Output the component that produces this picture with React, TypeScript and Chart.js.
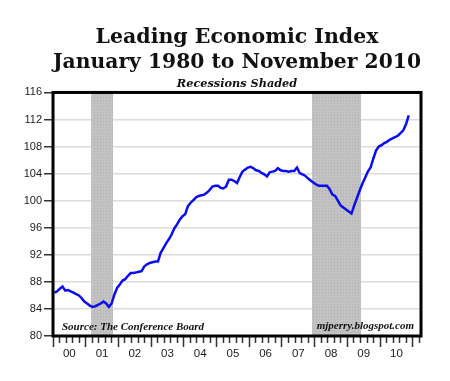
import React, { useEffect, useRef } from 'react';
import { Chart, registerables } from 'chart.js';

Chart.register(...registerables);

const titleLines = ['Leading Economic Index', 'January 1980 to November 2010'];
const subtitleText = 'Recessions Shaded';
const sourceText = 'Source: The Conference Board';
const creditText = 'mjperry.blogspot.com';

const yearLabels = ['00', '01', '02', '03', '04', '05', '06', '07', '08', '09', '10'];

// Monthly LEI values, Jan 2000 .. Nov 2010 (index = months since Jan 2000)
const lei2000 = [86.4, 86.6, 87.0, 87.3, 86.7, 86.8, 86.6, 86.4, 86.2, 86.0, 85.6, 85.1];
const lei2001 = [84.8, 84.5, 84.3, 84.4, 84.6, 84.8, 85.1, 84.8, 84.3, 84.8, 86.1, 87.1];
const lei2002 = [87.6, 88.2, 88.4, 88.9, 89.3, 89.3, 89.4, 89.5, 89.6, 90.3, 90.6, 90.8];
const lei2003 = [90.9, 91.0, 91.0, 92.3, 93.0, 93.7, 94.3, 95.0, 95.9, 96.5, 97.2, 97.7];
const lei2004 = [98.0, 99.2, 99.7, 100.1, 100.5, 100.7, 100.8, 100.9, 101.2, 101.6, 102.1, 102.2];
const lei2005 = [102.2, 101.9, 101.8, 102.1, 103.1, 103.1, 102.9, 102.6, 103.5, 104.3, 104.6, 104.9];
const lei2006 = [105.0, 104.8, 104.5, 104.4, 104.1, 103.9, 103.6, 104.2, 104.3, 104.4, 104.8, 104.5];
const lei2007 = [104.4, 104.4, 104.3, 104.4, 104.4, 104.9, 104.1, 103.9, 103.7, 103.3, 103.0, 102.7];
const lei2008 = [102.4, 102.2, 102.2, 102.2, 102.2, 101.7, 100.9, 100.7, 100.0, 99.3, 99.0, 98.7];
const lei2009 = [98.4, 98.1, 99.3, 100.4, 101.5, 102.5, 103.4, 104.3, 104.9, 106.2, 107.4, 108.0];
const lei2010 = [108.2, 108.5, 108.7, 109.0, 109.2, 109.4, 109.6, 110.0, 110.4, 111.3, 112.6];

const leiValues = [
  ...lei2000, ...lei2001, ...lei2002, ...lei2003, ...lei2004, ...lei2005,
  ...lei2006, ...lei2007, ...lei2008, ...lei2009, ...lei2010,
];

// Recessions (month index since Jan 2000): Mar 2001 - Nov 2001, Dec 2007 - Jun 2009
const recessionStart = [14, 95];
const recessionEnd = [22, 113];

const yMin = 80;
const yMax = 116;
const yStep = 4;

const xMin = -0.5;
const xMax = 134.5;

type TickItem = { value: number; kind: 'major' | 'minor' | 'label'; yearIdx?: number };

function buildXTicks(): TickItem[] {
  const list: TickItem[] = [];
  for (let k = 0; k <= 56; k++) {
    const v = xMin + 2.4 * k;
    if (v > xMax + 0.01) break;
    list.push({ value: v, kind: k % 5 === 0 ? 'major' : 'minor' });
  }
  yearLabels.forEach((_, i) => {
    list.push({ value: i * 12 + 5.5, kind: 'label', yearIdx: i });
  });
  list.sort((a, b) => a.value - b.value);
  return list;
}

export default function App() {
  const canvasRef = useRef<HTMLCanvasElement | null>(null);

  useEffect(() => {
    const canvas = canvasRef.current;
    if (!canvas) return;

    const pc = document.createElement('canvas');
    pc.width = 3;
    pc.height = 3;
    const pctx = pc.getContext('2d')!;
    pctx.fillStyle = '#c2c2c2';
    pctx.fillRect(0, 0, 3, 3);
    pctx.fillStyle = '#b0b0b0';
    pctx.fillRect(1, 1, 1, 1);

    const shadePlugin = {
      id: 'recessionShade',
      beforeDatasetsDraw(chart: any) {
        const { ctx, chartArea, scales } = chart;
        const pattern = ctx.createPattern(pc, 'repeat');
        ctx.save();
        ctx.fillStyle = pattern || '#c2c2c2';
        recessionStart.forEach((s, i) => {
          const x1 = scales.x.getPixelForValue(s - 0.5);
          const x2 = scales.x.getPixelForValue(recessionEnd[i] - 0.5);
          ctx.fillRect(x1, chartArea.top, x2 - x1, chartArea.bottom - chartArea.top);
        });
        ctx.restore();
      },
      afterDatasetsDraw(chart: any) {
        const { ctx, chartArea } = chart;
        ctx.save();
        ctx.fillStyle = '#111';
        ctx.font = 'italic bold 11px "Liberation Serif"';
        ctx.textBaseline = 'middle';
        ctx.textAlign = 'left';
        ctx.fillText(sourceText, chartArea.left + 9, chartArea.bottom - 9);
        ctx.textAlign = 'right';
        ctx.fillText(creditText, chartArea.right - 7, chartArea.bottom - 10);
        ctx.strokeStyle = '#000';
        ctx.lineWidth = 3;
        ctx.strokeRect(chartArea.left, chartArea.top, chartArea.right - chartArea.left, chartArea.bottom - chartArea.top);
        ctx.restore();
      },
    };

    const xTicks = buildXTicks();

    const chart = new Chart(canvas, {
      type: 'line',
      data: {
        datasets: [
          {
            label: 'Leading Economic Index',
            data: leiValues.map((v, i) => ({ x: i, y: v })),
            borderColor: '#0c0cf0',
            borderWidth: 2.5,
            pointRadius: 0,
            tension: 0,
            fill: false,
          },
        ],
      },
      options: {
        responsive: false,
        animation: false,
        devicePixelRatio: 1,
        layout: { padding: { left: 0, right: 29, top: 0, bottom: 21 } },
        plugins: {
          legend: { display: false },
          tooltip: { enabled: false },
          title: {
            display: true,
            fullSize: false,
            text: titleLines,
            color: '#111',
            font: { family: '"DejaVu Serif"', size: 20.5, weight: 'bold', lineHeight: 1.22 },
            padding: { top: 25, bottom: 2.5 },
          },
          subtitle: {
            display: true,
            fullSize: false,
            text: subtitleText,
            color: '#111',
            font: { family: '"DejaVu Serif"', size: 11.3, weight: 'bold', style: 'italic', lineHeight: 1.1 },
            padding: { top: 0, bottom: 2.5 },
          },
        },
        scales: {
          x: {
            type: 'linear',
            min: xMin,
            max: xMax,
            border: { display: false },
            grid: {
              drawOnChartArea: false,
              drawTicks: true,
              tickLength: 11,
              tickWidth: 1.5,
              tickColor: (ctx: any) => (ctx.tick && ctx.tick.kind === 'label' ? 'rgba(0,0,0,0)' : '#333'),
              tickBorderDash: (ctx: any) => (ctx.tick && ctx.tick.kind === 'minor' ? [7, 100] : []),
            } as any,
            ticks: {
              autoSkip: false,
              maxRotation: 0,
              minRotation: 0,
              padding: 0,
              color: '#222',
              font: { family: '"Liberation Sans"', size: 11.5 },
              callback: (_v: any, i: number, ticks: any[]) => {
                const t = ticks[i];
                return t && t.kind === 'label' ? yearLabels[t.yearIdx] : '';
              },
            },
            afterBuildTicks: (scale: any) => {
              scale.ticks = xTicks.map((t) => ({ ...t }));
            },
            afterFit: (scale: any) => {
              scale.height = 24;
            },
          },
          y: {
            min: yMin,
            max: yMax,
            border: { display: false },
            grid: {
              color: '#dcdcdc',
              lineWidth: 1.5,
              tickColor: '#333',
              tickLength: 9,
              tickWidth: 1.5,
            },
            ticks: {
              stepSize: yStep,
              padding: 2,
              color: '#222',
              font: { family: '"Liberation Sans"', size: 11 },
            },
            afterFit: (scale: any) => {
              scale.width = 53;
            },
          },
        },
      },
      plugins: [shadePlugin],
    } as any);

    return () => {
      chart.destroy();
    };
  }, []);

  return (
    <div style={{ position: 'absolute', left: 0, top: 0, width: 450, height: 381, background: '#fff' }}>
      <canvas ref={canvasRef} width={450} height={381} />
    </div>
  );
}
